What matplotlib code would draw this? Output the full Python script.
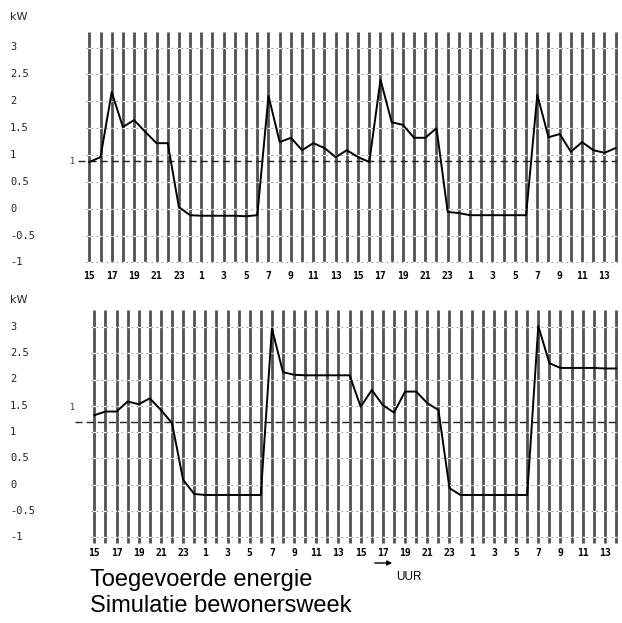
import matplotlib
matplotlib.use("Agg")
import matplotlib.pyplot as plt
from matplotlib.patches import FancyArrowPatch
from matplotlib.transforms import blended_transform_factory

# --- data ---
hour_labels = ['15', '17', '19', '21', '23', '1', '3', '5', '7', '9', '11', '13',
               '15', '17', '19', '21', '23', '1', '3', '5', '7', '9', '11', '13']
ytick_vals = [3, 2.5, 2, 1.5, 1, 0.5, 0, -0.5, -1]
ytick_labels = ['3', '2.5', '2', '1.5', '1', '0.5', '0', '-0.5', '-1']

# kW per hour, starting at 15:00 (48 hours)
top_kw = [0.87, 0.96, 2.17, 1.52, 1.65, 1.43, 1.22, 1.22,
          0.03, -0.12, -0.13, -0.13, -0.13, -0.13, -0.14, -0.12,
          2.10, 1.24, 1.32, 1.09, 1.22, 1.13, 0.96, 1.09, 0.96, 0.87,
          2.40, 1.61, 1.56, 1.32, 1.32, 1.50,
          -0.06, -0.08, -0.12, -0.12, -0.12, -0.12, -0.12, -0.12,
          2.12, 1.33, 1.39, 1.06, 1.24, 1.09, 1.04, 1.13]
bottom_kw = [1.32, 1.39, 1.39, 1.58, 1.53, 1.64, 1.42, 1.17,
             0.09, -0.18, -0.20, -0.20, -0.20, -0.20, -0.20, -0.20,
             2.97, 2.14, 2.09, 2.08, 2.08, 2.08, 2.08, 2.08,
             1.48, 1.80, 1.51, 1.37, 1.77, 1.77, 1.55, 1.42,
             -0.07, -0.20, -0.20, -0.20, -0.20, -0.20, -0.20, -0.20,
             3.02, 2.31, 2.22, 2.22, 2.22, 2.22, 2.21, 2.21]
top_ref = 0.88
bottom_ref = 1.2

W, H = 622, 623
fig = plt.figure(figsize=(W / 100, H / 100), dpi=100)
fig.patch.set_facecolor('white')


def px_axes(x0, dx, y_px, v_at, px_per_kw, ylim):
    # place axes so that data values land on the scanned pixel positions
    left = x0 - 0.5 * dx
    width = 48 * dx
    top_px = y_px - (ylim[1] - v_at) * px_per_kw
    bot_px = y_px + (v_at - ylim[0]) * px_per_kw
    ax = fig.add_axes([left / W, 1 - bot_px / H, width / W, (bot_px - top_px) / H])
    ax.set_xlim(-0.5, 47.5)
    ax.set_ylim(*ylim)
    return ax


def draw_panel(ax, values, ref, vline_lo, vline_hi, ref_x0, kw_y, one_y):
    n = len(values)
    idx = list(range(n))
    # heavy hourly vertical lines
    ax.vlines(idx, vline_lo, vline_hi, color='#505050', lw=2.0, zorder=1)
    # horizontal grid: white breaks through the verticals plus faint dashes
    for v in ytick_vals:
        ax.plot([-0.3, n - 0.7], [v, v], color='white', lw=0.9, zorder=2)
        ax.plot([-0.3, n - 0.7], [v, v], color='#8a8a8a', lw=0.6,
                dashes=(2, 4), zorder=2.5)
    # reference line
    tr = blended_transform_factory(fig.transFigure, ax.transData)
    ax.plot([ref_x0 / W, 617 / W], [ref, ref], transform=tr, color='#222222',
            lw=1.0, dashes=(5, 3), zorder=3, clip_on=False)
    ax.plot(idx, values, color='black', lw=1.4, zorder=4)

    ax.set_xticks(range(0, n, 2))
    ax.set_xticklabels(hour_labels, fontsize=7, family='DejaVu Sans Mono',
                       fontweight='bold')
    ax.tick_params(axis='x', length=0, pad=2)
    ax.set_yticks([])
    for s in ax.spines.values():
        s.set_visible(False)

    for v, lab in zip(ytick_vals, ytick_labels):
        ax.text(10 / W, v, lab, transform=tr, fontsize=7.5,
                family='DejaVu Sans Mono', ha='left', va='center', color='#222222')
    fig.text(10 / W, 1 - kw_y / H, 'kW', fontsize=8, ha='left', va='center',
             family='DejaVu Sans', color='#222222')
    fig.text(70 / W, 1 - one_y / H, '1', fontsize=6, ha='left', va='center',
             family='DejaVu Sans Mono', color='#333333')


# top panel: hour 0 at x=89.3px, 11.2 px/hour; 1 kW at y=155px, 53.75 px/kW
ax1 = px_axes(89.3, 11.2, 155, 1.0, 53.75, (-1.1, 3.4))
draw_panel(ax1, top_kw, top_ref, -1.0, 3.29, 78, 17, 161)

# bottom panel: hour 0 at x=94.3px, 11.1 px/hour; 3 kW at y=327px, 52.5 px/kW
ax2 = px_axes(94.3, 11.1, 327, 3.0, 52.5, (-1.15, 3.45))
draw_panel(ax2, bottom_kw, bottom_ref, -1.11, 3.32, 75, 300, 408)

fig.text(90 / W, 1 - 580 / H, 'Toegevoerde energie', fontsize=17,
         family='Liberation Sans', ha='left', va='center')
fig.text(90 / W, 1 - 606 / H, 'Simulatie bewonersweek', fontsize=17,
         family='Liberation Sans', ha='left', va='center')
fig.text(396 / W, 1 - 577 / H, 'UUR', fontsize=8.5, family='Liberation Sans',
         ha='left', va='center')
fig.add_artist(FancyArrowPatch(
    (372 / W, 1 - 563 / H), (395 / W, 1 - 563 / H), transform=fig.transFigure,
    arrowstyle='-|>', mutation_scale=7, lw=1.0, color='black'))

fig.savefig('out.png', dpi=100, facecolor='white')
